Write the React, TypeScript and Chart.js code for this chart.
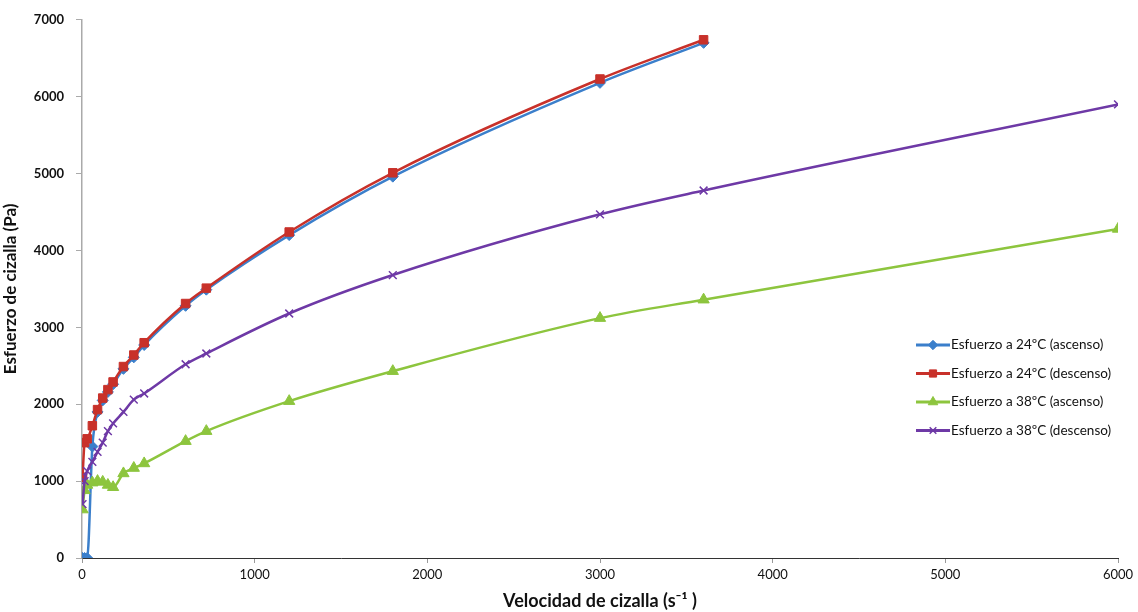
import React, { useEffect, useRef } from "react";
import { Chart, registerables } from "chart.js";
import { drawPoint } from "chart.js/helpers";

Chart.register(...registerables);

const xAsc24 = [3, 15, 30, 60, 90, 120, 150, 180, 240, 300, 360, 600, 720, 1200, 1800, 3000, 3600];
const yAsc24 = [0, 0, 0, 1450, 1900, 2050, 2160, 2260, 2460, 2610, 2770, 3280, 3490, 4200, 4960, 6180, 6700];

const xDesc24 = [3, 15, 30, 60, 90, 120, 150, 180, 240, 300, 360, 600, 720, 1200, 1800, 3000, 3600];
const yDesc24 = [1050, 1500, 1550, 1720, 1930, 2080, 2190, 2290, 2490, 2640, 2800, 3310, 3510, 4240, 5010, 6230, 6740];

const xAsc38 = [3, 15, 30, 60, 90, 120, 150, 180, 240, 300, 360, 600, 720, 1200, 1800, 3000, 3600, 6000];
const yAsc38 = [630, 880, 950, 980, 1000, 990, 950, 920, 1100, 1170, 1230, 1520, 1650, 2040, 2430, 3120, 3360, 4280];

const xDesc38 = [3, 15, 30, 60, 90, 120, 150, 180, 240, 300, 360, 600, 720, 1200, 1800, 3000, 3600, 6000];
const yDesc38 = [700, 1000, 1130, 1250, 1380, 1500, 1650, 1750, 1900, 2060, 2140, 2520, 2660, 3180, 3680, 4470, 4780, 5900];

const seriesNames = [
  "Esfuerzo a 24ºC (ascenso)",
  "Esfuerzo a 24ºC (descenso)",
  "Esfuerzo a 38ºC (ascenso)",
  "Esfuerzo a 38ºC (descenso)",
];

const xTitle = "Velocidad de cizalla (s\u207B\u00B9 )";
const yTitle = "Esfuerzo de cizalla (Pa)";

const FONT = "Lato, 'Open Sans', sans-serif";

function pts(xs: number[], ys: number[]) {
  return xs.map((x, i) => ({ x, y: ys[i] }));
}

const legendPlugin = {
  id: "insideLegend",
  afterDraw(chart: any) {
    const ctx = chart.ctx;
    const x0 = 916;
    const y0 = 345;
    const gap = 28.5;
    ctx.save();
    chart.data.datasets.forEach((ds: any, i: number) => {
      const y = y0 + i * gap;
      ctx.strokeStyle = ds.borderColor;
      ctx.lineWidth = 3;
      ctx.beginPath();
      ctx.moveTo(x0, y);
      ctx.lineTo(x0 + 34, y);
      ctx.stroke();
      ctx.fillStyle = ds.pointBackgroundColor;
      ctx.strokeStyle = ds.pointBorderColor;
      ctx.lineWidth = ds.pointBorderWidth;
      drawPoint(ctx, { pointStyle: ds.pointStyle, radius: ds.pointRadius * 0.85, borderWidth: ds.pointBorderWidth, rotation: 0 }, x0 + 17, y);
      ctx.fillStyle = "#111";
      ctx.font = "13.5px " + FONT;
      ctx.textBaseline = "middle";
      ctx.textAlign = "left";
      ctx.fillText(ds.label, x0 + 35, y);
    });
    ctx.restore();
  },
};

export default function App() {
  const ref = useRef<HTMLCanvasElement | null>(null);

  useEffect(() => {
    document.body.style.margin = "0";
    const canvas = ref.current;
    if (!canvas) return;
    const colors = ["#3B7FCB", "#C8312A", "#8DC53E", "#6E39A6"];
    const styles = ["rectRot", "rect", "triangle", "crossRot"];
    const radii = [5.5, 6, 6.5, 5.5];
    const data = [pts(xAsc24, yAsc24), pts(xDesc24, yDesc24), pts(xAsc38, yAsc38), pts(xDesc38, yDesc38)];
    const chart = new Chart(canvas, {
      type: "scatter",
      data: {
        datasets: data.map((d, i) => ({
          label: seriesNames[i],
          data: d,
          showLine: true,
          borderColor: colors[i],
          backgroundColor: colors[i],
          pointBackgroundColor: colors[i],
          pointBorderColor: colors[i],
          pointBorderWidth: i === 3 ? 1.5 : 1,
          pointStyle: styles[i],
          pointRadius: radii[i],
          borderWidth: 2.5,
          cubicInterpolationMode: "monotone",
          order: 4 - i,
        })),
      },
      options: {
        animation: false,
        responsive: false,
        maintainAspectRatio: false,
        layout: { padding: { top: -6, right: 20, left: 0, bottom: 0 } },
        plugins: {
          legend: { display: false },
          tooltip: { enabled: false },
        },
        scales: {
          x: {
            type: "linear",
            min: 0,
            max: 6000,
            ticks: {
              stepSize: 1000,
              color: "#111",
              font: { family: FONT, size: 13 },
              padding: 4,
              maxRotation: 0,
              callback: (v: any) => String(v),
            },
            grid: { drawOnChartArea: false, drawTicks: true, tickLength: 5, color: "#999" },
            border: { color: "#333", width: 1 },
            title: {
              display: true,
              text: xTitle,
              color: "#111",
              font: { family: FONT, size: 18, weight: "bold" },
              padding: { top: 2, bottom: 0 },
            },
            afterFit(scale: any) {
              scale.height = 54;
            },
          },
          y: {
            type: "linear",
            min: 0,
            max: 7000,
            ticks: {
              stepSize: 1000,
              color: "#111",
              font: { family: FONT, size: 13, weight: "bold" },
              padding: 12,
              callback: (v: any) => String(v),
            },
            grid: { drawOnChartArea: false, drawTicks: true, tickLength: 6, color: "#aaa" },
            border: { color: "#aaa", width: 1.5 },
            title: {
              display: true,
              text: yTitle,
              color: "#111",
              font: { family: FONT, size: 17, weight: "bold" },
              padding: { top: 0, bottom: 0 },
            },
            afterFit(scale: any) {
              scale.width = 82;
            },
          },
        },
      },
      plugins: [legendPlugin],
    });
    return () => chart.destroy();
  }, []);

  return (
    <div style={{ width: 1138, height: 612, background: "#fff" }}>
      <canvas ref={ref} width={1138} height={612} style={{ display: "block" }} />
    </div>
  );
}
